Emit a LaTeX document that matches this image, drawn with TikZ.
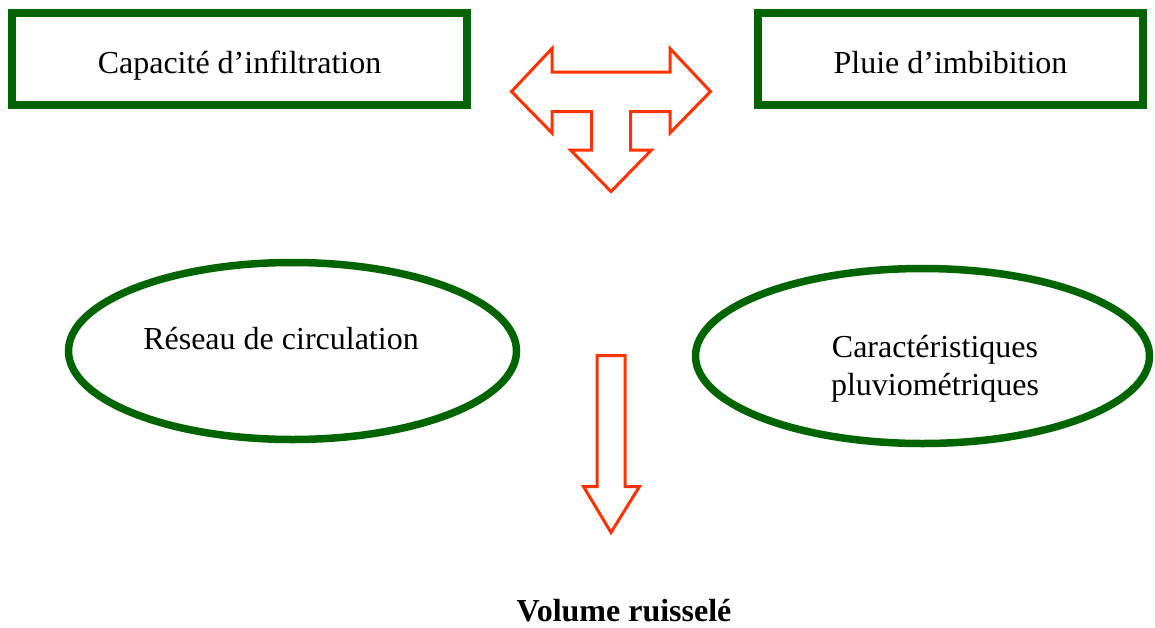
\documentclass[tikz,border=0pt]{standalone}
\usepackage{fontspec}
\setmainfont{Liberation Serif}
\usetikzlibrary{shapes.geometric}
\definecolor{boxgreen}{RGB}{0,100,0}
\definecolor{arrowred}{RGB}{255,51,0}
\tikzset{
  greenbox/.style={draw=boxgreen, line width=8pt, rectangle, inner sep=0pt},
  greenoval/.style={draw=boxgreen, line width=7.5pt, ellipse, inner sep=0pt},
  blockarrow/.style={draw=arrowred, line width=3pt, line join=miter, fill=white},
  lbl/.style={anchor=base, inner sep=0pt, font=\fontsize{32}{38}\selectfont, align=center},
  boldlbl/.style={lbl, font=\fontsize{32}{38}\selectfont\bfseries}
}
\begin{document}
\begin{tikzpicture}[x=1pt, y=-1pt]
  \useasboundingbox (0,0) rectangle (1155,627);

  % top boxes
  \node[greenbox, minimum width=455pt, minimum height=92pt] (infil) at (239.5,59) {};
  \node[lbl] (infiltxt) at (239.5,73) {Capacité d’infiltration};
  \node[greenbox, minimum width=385pt, minimum height=92pt] (imbib) at (950.5,59) {};
  \node[lbl] (imbibtxt) at (950.5,73) {Pluie d’imbibition};

  % T-shaped double arrow pointing left, right and down
  \draw[blockarrow] (511.5,91.5) -- (552,48.5) -- (552,72) -- (670,72) -- (670,48.5)
    -- (710.5,91.5) -- (670,133) -- (670,111.5) -- (630.5,111.5) -- (630.5,150)
    -- (651.5,150) -- (611,191.5) -- (570.5,150) -- (591.5,150) -- (591.5,111.5)
    -- (552,111.5) -- (552,133) -- cycle;

  % ovals
  \node[greenoval, minimum width=448pt, minimum height=177pt] (reseau) at (292.5,351) {};
  \node[lbl] (reseautxt) at (281,349) {Réseau de circulation};
  \node[greenoval, minimum width=454pt, minimum height=175pt] (pluvio) at (922.5,356) {};
  % base anchor of a two-line node sits on its last line
  \node[lbl] (pluviotxt) at (935,395) {Caractéristiques\\pluviométriques};

  % downward block arrow
  \draw[blockarrow] (597,355.5) -- (625,355.5) -- (625,486.5) -- (639.5,486.5)
    -- (611,532.5) -- (583.5,486.5) -- (597,486.5) -- cycle;

  % result
  \node[boldlbl] (volume) at (624,621.5) {Volume ruisselé};
\end{tikzpicture}
\end{document}
